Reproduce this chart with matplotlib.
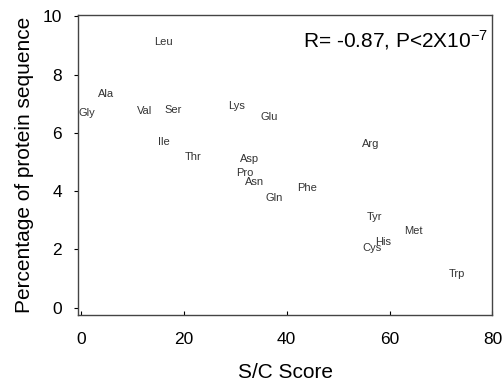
import numpy as np
import matplotlib
matplotlib.use('Agg')
import matplotlib.pyplot as plt

plt.rcParams['font.family'] = ['Liberation Sans', 'DejaVu Sans']
plt.rcParams['mathtext.fontset'] = 'custom'
plt.rcParams['mathtext.rm'] = 'Liberation Sans'
plt.rcParams['mathtext.it'] = 'Liberation Sans'

# данные: аминокислоты, S/C score и доля в последовательности (%)
amino = ['Leu', 'Ala', 'Gly', 'Val', 'Ser', 'Lys', 'Glu', 'Ile', 'Thr', 'Asp',
         'Pro', 'Asn', 'Gln', 'Phe', 'Arg', 'Tyr', 'Met', 'His', 'Cys', 'Trp']
sc_score = [16.0, 4.9, 1.2, 12.4, 17.9, 30.3, 36.5, 16.2, 21.7, 32.8,
            31.9, 33.8, 37.5, 44.0, 56.4, 57.0, 64.6, 58.8, 56.6, 73.0]
percent = [9.11, 7.33, 6.70, 6.76, 6.79, 6.94, 6.54, 5.69, 5.19, 5.10,
           4.62, 4.31, 3.78, 4.10, 5.62, 3.11, 2.63, 2.27, 2.04, 1.16]

xticks = [0, 20, 40, 60, 80]
yticks = [0, 2, 4, 6, 8, 10]

fig = plt.figure(figsize=(5.03, 3.85), dpi=100)
ax = fig.add_axes([0.155, 0.182, 0.824, 0.779])

for name, x, y in zip(amino, sc_score, percent):
    ax.text(x, y, name, fontsize=8, color='#333333', ha='center', va='center')

ax.set_xlim(-0.6, 80)
ax.set_ylim(-0.25, 10.05)
ax.set_xticks(xticks)
ax.set_yticks(yticks)
ax.tick_params(axis='x', direction='in', length=3, labelsize=12.5, pad=12)
ax.tick_params(axis='y', direction='out', length=3, labelsize=12.5, pad=8.5)
for sp in ax.spines.values():
    sp.set_color('#444444')
    sp.set_linewidth(1.0)

ax.set_xlabel('S/C Score', fontsize=15, labelpad=12)
ax.set_ylabel('Percentage of protein sequence', fontsize=15, labelpad=6)

ax.text(0.991, 0.894, 'R= -0.87, P<2X10$^{-7}$', transform=ax.transAxes,
        fontsize=15, ha='right', va='baseline')

fig.savefig('out.png', dpi=100)
